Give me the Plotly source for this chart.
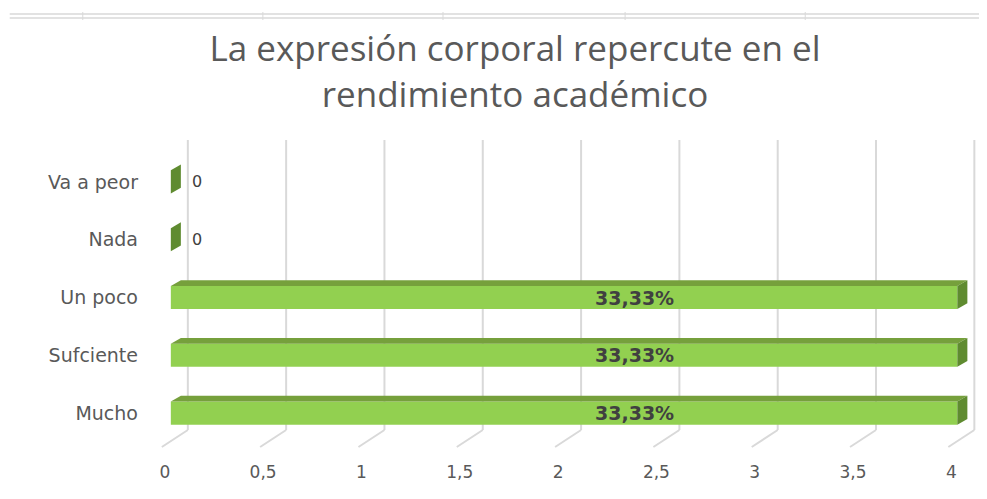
"""
    Horizontal bar chart (Excel 3D style) - expresion corporal
"""

import plotly.graph_objs as go

# Data
categories = ["Mucho", "Sufciente", "Un poco", "Nada", "Va a peor"]
values = [4, 4, 4, 0, 0]
labels = ["33,33%", "33,33%", "33,33%", "0", "0"]
x_ticks = [0, 0.5, 1, 1.5, 2, 2.5, 3, 3.5, 4]
x_tick_text = ["0", "0,5", "1", "1,5", "2", "2,5", "3", "3,5", "4"]

title = "La expresión corporal repercute en el<br>rendimiento académico"

# Styles
FRONT = "#92D050"
TOP = "#76A03C"
SIDE = "#5F8B30"
GRID = "#D9D9D9"
TEXT = "#595959"
LABEL = "#404040"

BAR_W = 0.4
DX = 0.051  # depth offset along x (data units)
DY = 0.10  # depth offset along y (category units)

X_MIN, X_MAX = -0.05, 4.1  # a bit of room for the 3D depth
PX_PER_UNIT = 196.5
LEFT = 163 - (0 - X_MIN) * PX_PER_UNIT
PLOT_W = (X_MAX - X_MIN) * PX_PER_UNIT
RIGHT = 987 - LEFT - PLOT_W

data = [
    go.Bar(
        y=categories,
        x=values,
        orientation="h",
        width=BAR_W,
        marker={"color": FRONT, "line": {"width": 0}},
        hoverinfo="x+y",
        showlegend=False,
    )
]

shapes = []
annotations = []

# Back-wall gridlines + floor diagonals
for v in x_ticks:
    shapes.append(
        dict(
            type="line", xref="x", yref="paper", xsizemode="pixel", ysizemode="pixel",
            xanchor=v, yanchor=0, x0=17, x1=17, y0=12, y1=302,
            line={"color": GRID, "width": 2}, layer="below",
        )
    )
    shapes.append(
        dict(
            type="line", xref="x", yref="paper", xsizemode="pixel", ysizemode="pixel",
            xanchor=v, yanchor=0, x0=17, x1=-9, y0=12, y1=-5,
            line={"color": GRID, "width": 2}, layer="below",
        )
    )

# 3D faces of the bars
h = BAR_W / 2
for i, (cat, v) in enumerate(zip(categories, values)):
    if v > 0:
        top = "M 0 {a} L {v} {a} L {v2} {b} L {dx} {b} Z".format(
            a=i + h, b=i + h + DY, v=v, v2=v + DX, dx=DX
        )
        shapes.append(dict(type="path", xref="x", yref="y", path=top,
                           fillcolor=TOP, line={"width": 0}))
    side = "M {v} {a} L {v} {b} L {v2} {c} L {v2} {d} Z".format(
        v=v, v2=v + DX, a=i - h, b=i + h, c=i + h + DY, d=i - h + DY
    )
    shapes.append(dict(type="path", xref="x", yref="y", path=side,
                       fillcolor=SIDE, line={"width": 0}))

    if v > 0:
        annotations.append(
            dict(x=v * 0.59, y=cat, xref="x", yref="y", text=labels[i], showarrow=False,
                 font={"family": "DejaVu Sans", "size": 19, "color": LABEL, "weight": "bold"})
        )
    else:
        annotations.append(
            dict(x=v, y=cat, xref="x", yref="y", text=labels[i], showarrow=False,
                 xshift=26, font={"family": "DejaVu Sans", "size": 16, "color": LABEL})
        )

# Spreadsheet cell lines at the top
for off in [139, 135]:
    shapes.append(
        dict(type="line", xref="paper", yref="paper", ysizemode="pixel", yanchor=1,
             x0=(2 - LEFT) / PLOT_W, x1=1.05, y0=off, y1=off,
             line={"color": GRID, "width": 1.5})
    )
for xp in [83, 263, 443, 625, 805]:
    shapes.append(
        dict(type="line", xref="paper", yref="paper", ysizemode="pixel", yanchor=1,
             x0=(xp - 8 - LEFT) / PLOT_W, x1=(xp - 8 - LEFT) / PLOT_W, y0=133, y1=141,
             line={"color": GRID, "width": 1})
    )

layout = go.Layout(
    width=987,
    height=499,
    margin={"l": LEFT, "r": RIGHT, "t": 144.5, "b": 64.5},
    paper_bgcolor="white",
    plot_bgcolor="white",
    title={
        "text": title,
        "x": 507 / 987,
        "xanchor": "center",
        "y": 0.893,
        "yanchor": "top",
        "font": {"family": "Open Sans, sans-serif", "size": 35, "color": TEXT},
    },
    xaxis={
        "range": [X_MIN, X_MAX],
        "tickvals": x_ticks,
        "ticktext": x_tick_text,
        "showgrid": False,
        "zeroline": False,
        "showline": False,
        "ticks": "",
        "ticklabelstandoff": 18,
        "ticklabelshift": -6,
        "tickfont": {"family": "DejaVu Sans", "size": 17, "color": TEXT},
        "fixedrange": True,
    },
    yaxis={
        "categoryorder": "array",
        "categoryarray": categories,
        "range": [-0.5, 4.5],
        "showgrid": False,
        "zeroline": False,
        "showline": False,
        "ticks": "",
        "ticklabelstandoff": round(32 - (0 - X_MIN) * PX_PER_UNIT),
        "tickfont": {"family": "DejaVu Sans", "size": 19, "color": TEXT},
        "fixedrange": True,
    },
    shapes=shapes,
    annotations=annotations,
)

fig = go.Figure(data=data, layout=layout)
fig.write_html("out.html")
